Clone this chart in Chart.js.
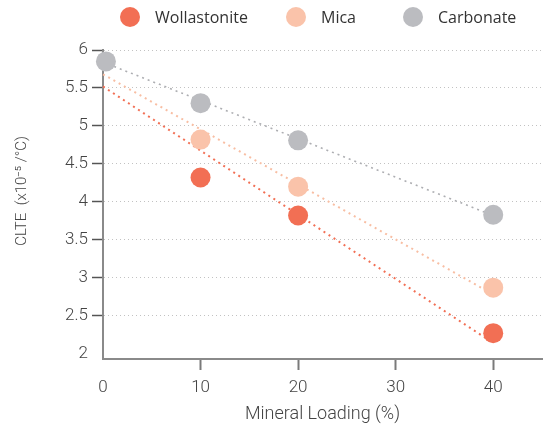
<!DOCTYPE html>
<html><head><meta charset="utf-8">
<script src="https://cdn.jsdelivr.net/npm/chart.js@4/dist/chart.umd.min.js"></script>
<style>
html,body{margin:0;padding:0;background:#fff;}
#wrap{position:relative;width:552px;height:427px;overflow:hidden;}
#c{position:absolute;left:0;top:0;}
.lg{position:absolute;top:0;height:34px;display:flex;align-items:center;font-family:"Open Sans",sans-serif;font-size:16px;color:#333;white-space:nowrap;}
.lg i{display:inline-block;width:20px;height:20px;border-radius:50%;margin-right:15px;}
</style></head><body>
<div id="wrap"><canvas id="c" width="552" height="427"></canvas></div>
<script>
// ---- data ----
const seriesNames = ["Wollastonite", "Mica", "Carbonate"];
const wollastoniteX = [10, 20, 40];
const wollastoniteY = [4.32, 3.82, 2.27];
const micaX = [10, 20, 40];
const micaY = [4.82, 4.20, 2.87];
const carbonateX = [0.3, 10, 20, 40];
const carbonateY = [5.85, 5.30, 4.81, 3.83];
// dotted trend lines (start / end values)
const trendX = [0, 40];
const wollastoniteTrend = [5.52, 2.14];
const micaTrend = [5.68, 2.78];
const carbonateTrend = [5.84, 3.82];
// axis ticks
const xTicks = [0, 10, 20, 30, 40];
const yTicks = [2, 2.5, 3, 3.5, 4, 4.5, 5, 5.5, 6];
const xTitle = "Mineral Loading (%)";
const yTitle = "CLTE  (x10\u207B\u2075 /\u00B0C)";

// ---- styles ----
const colors = ["#F26F54", "#FAC3AA", "#BBBCC0"];
const trendColors = ["#F26F54", "#F8BEA3", "#ADAEB2"];
const legendLeft = [120, 286, 403];
const FONT = "Roboto, 'Liberation Sans', sans-serif";

const pts = (xs, ys) => xs.map((x, i) => ({x: x, y: ys[i]}));
const seriesX = [wollastoniteX, micaX, carbonateX];
const seriesY = [wollastoniteY, micaY, carbonateY];
const trends = [wollastoniteTrend, micaTrend, carbonateTrend];

// HTML legend
const wrap = document.getElementById('wrap');
seriesNames.forEach((n, i) => {
  const d = document.createElement('div');
  d.className = 'lg';
  d.style.left = legendLeft[i] + 'px';
  d.innerHTML = '<i style="background:' + colors[i] + '"></i><span></span>';
  d.querySelector('span').textContent = n;
  wrap.appendChild(d);
});

const datasets = [];
seriesNames.forEach((n, i) => {
  datasets.push({
    label: n, data: pts(seriesX[i], seriesY[i]),
    backgroundColor: colors[i], borderWidth: 0, pointRadius: 10, pointHoverRadius: 10,
    showLine: false, order: 0, clip: false
  });
});
seriesNames.forEach((n, i) => {
  datasets.push({
    label: n + " trend", data: pts(trendX, trends[i]),
    type: 'line', borderColor: trendColors[i], borderWidth: i === 2 ? 1.6 : 2, borderDash: [2, 4],
    pointRadius: 0, fill: false, showLine: true, order: 1, clip: false
  });
});

// rotated y-axis title placed like the reference
const yTitlePlugin = {
  id: 'yTitlePlugin',
  afterDraw(chart) {
    const ctx = chart.ctx;
    ctx.save();
    ctx.translate(22, 191);
    ctx.rotate(-Math.PI / 2);
    ctx.textAlign = 'center';
    ctx.textBaseline = 'middle';
    ctx.fillStyle = '#444';
    ctx.font = "300 15px " + FONT;
    ctx.fillText(yTitle, 0, 0);
    ctx.restore();
  }
};

new Chart(document.getElementById('c'), {
  type: 'scatter',
  data: {datasets: datasets},
  plugins: [yTitlePlugin],
  options: {
    responsive: false, animation: false, devicePixelRatio: 1,
    layout: {padding: {top: 50, right: 10, left: 0, bottom: 0}},
    plugins: {legend: {display: false}, tooltip: {enabled: false}},
    scales: {
      x: {
        type: 'linear', min: 0, max: 45,
        afterBuildTicks: s => { s.ticks = xTicks.map(v => ({value: v})); },
        afterFit: s => { s.height = 68; },
        grid: {drawOnChartArea: false, drawTicks: true, tickLength: 11, tickWidth: 2,
          tickColor: c => (c.tick && c.tick.value === 0) ? 'rgba(0,0,0,0)' : '#7a7a7a'},
        border: {display: true, color: '#8a8a8a', width: 2},
        ticks: {color: '#444', font: {family: FONT, size: 17, weight: 300}, padding: 8, maxRotation: 0,
          callback: v => String(v)},
        title: {display: true, text: xTitle, color: '#444', font: {family: FONT, size: 18, weight: 300},
          padding: {top: 0, bottom: 2}}
      },
      y: {
        type: 'linear', min: 1.93, max: 6,
        afterBuildTicks: s => { s.ticks = yTicks.map(v => ({value: v})); },
        afterFit: s => { s.width = 103; },
        grid: {
          color: c => (c.tick && c.tick.value === 2) ? 'rgba(0,0,0,0)' : '#c2c2c2',
          lineWidth: 1, drawTicks: true, tickLength: 11, tickWidth: 1.5,
          tickColor: c => (c.tick && c.tick.value === 2) ? 'rgba(0,0,0,0)' : '#555'
        },
        border: {display: true, color: '#8a8a8a', width: 2, dash: [1, 3]},
        ticks: {color: '#444', font: {family: FONT, size: 17, weight: 300}, padding: 4,
          callback: v => String(v)},
        title: {display: false}
      }
    }
  }
});
</script>
</body></html>
